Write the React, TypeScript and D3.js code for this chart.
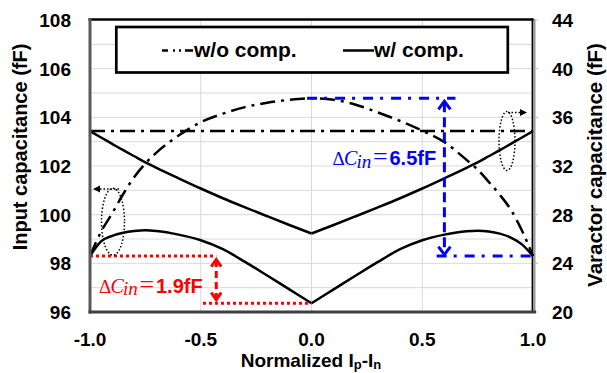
import React from "react";
import * as d3 from "d3";

// ---------- data ----------
const xTicks = [-1, -0.5, 0, 0.5, 1];
const xTickLabels = ["-1.0", "-0.5", "0.0", "0.5", "1.0"];
const leftTicks = [96, 98, 100, 102, 104, 106, 108];
const rightTicks = [20, 24, 28, 32, 36, 40, 44];
const gridLeftValues = [97, 98, 99, 100, 101, 102, 103, 104, 105, 106, 107];
const gridXValues = [-0.5, 0, 0.5];

const xGrid = [-1, -0.95, -0.9, -0.85, -0.8, -0.75, -0.7, -0.6, -0.5, -0.4, -0.3, -0.2, -0.1, 0,
  0.1, 0.2, 0.3, 0.4, 0.5, 0.6, 0.7, 0.75, 0.8, 0.85, 0.9, 0.95, 1];
// Input capacitance w/o comp. (left axis, fF)
const inputNoComp = [98.3, 99.3, 100.05, 100.85, 101.55, 102.1, 102.55, 103.25, 103.8, 104.15, 104.42, 104.6, 104.72, 104.78,
  104.72, 104.52, 104.2, 103.85, 103.45, 102.98, 102.25, 101.85, 101.35, 100.82, 100.2, 99.35, 98.3];
// Input capacitance w/ comp. (left axis, fF)
const inputComp = [98.3, 98.9, 99.13, 99.26, 99.33, 99.36, 99.33, 99.18, 98.95, 98.58, 98.06, 97.5, 96.93, 96.36,
  96.93, 97.5, 98.06, 98.58, 98.95, 99.18, 99.32, 99.34, 99.31, 99.22, 99.06, 98.78, 98.3];
// Varactor capacitance w/o comp. (right axis, fF)
const varNoComp = [34.87, 34.87, 34.87, 34.87, 34.87, 34.87, 34.87, 34.87, 34.87, 34.87, 34.87, 34.87, 34.87, 34.87,
  34.87, 34.87, 34.87, 34.87, 34.87, 34.87, 34.87, 34.87, 34.87, 34.87, 34.87, 34.87, 34.87];
// Varactor capacitance w/ comp. (right axis, fF)
const varComp = [34.87, 34.34, 33.82, 33.3, 32.8, 32.3, 31.85, 30.99, 30.15, 29.35, 28.6, 27.87, 27.15, 26.45,
  27.15, 27.87, 28.6, 29.35, 30.15, 30.99, 31.85, 32.3, 32.8, 33.3, 33.82, 34.34, 34.87];

// annotations (data coords)
const redDelta = { top: 98.3, bottom: 96.36, xArrow: -0.43, xTopStart: -1, xBottomStart: -0.49, xBottomEnd: 0, label: "1.9fF" };
const blueDelta = { top: 104.78, bottom: 98.3, xArrow: 0.6, xTopStart: -0.02, xTopEnd: 0.65, xBottomStart: 0.565, xBottomEnd: 1, label: "6.5fF" };

const W = 607, H = 373;
const M = { left: 90, right: 533, top: 20, bottom: 312 };

const FONT = "'Liberation Sans', Arial, sans-serif";
const SERIF = "'Liberation Serif', 'Times New Roman', serif";

function Chevron({ x, y, dir, color, w = 6, h = 8 }: { x: number; y: number; dir: number; color: string; w?: number; h?: number }) {
  const d = `M${x - w},${y - dir * h} L${x},${y} L${x + w},${y - dir * h}`;
  return <path d={d} fill="none" stroke={color} strokeWidth={3} strokeLinejoin="miter" />;
}

function DeltaLabel({ x, y, color, value }: { x: number; y: number; color: string; value: string }) {
  return (
    <text x={x} y={y} fill={color} fontFamily={SERIF} fontSize={19}>
      <tspan>Δ</tspan>
      <tspan x={x + 11.5} fontSize={20} fontStyle="italic">C</tspan>
      <tspan x={x + 24} dy={2.5} fontSize={19} fontStyle="italic">in</tspan>
      <tspan x={x + 40.5} dy={-2.5} fontSize={26}>=</tspan>
      <tspan x={x + 57} fontFamily={FONT} fontSize={20} fontWeight="bold">{value}</tspan>
    </text>
  );
}

export default function App() {
  const x = d3.scaleLinear().domain([-1, 1]).range([M.left, M.right]);
  const yL = d3.scaleLinear().domain([96, 108]).range([M.bottom, M.top]);
  const yR = d3.scaleLinear().domain([20, 44]).range([M.bottom, M.top]);

  const idx = xGrid.map((_, i) => i);
  const leftIdx = idx.filter((i) => xGrid[i] <= 0);
  const rightIdx = idx.filter((i) => xGrid[i] >= 0);

  const mk = (vals: number[], ys: d3.ScaleLinear<number, number>, ids: number[]) =>
    d3.line<number>().x((i) => x(xGrid[i])).y((i) => ys(vals[i])).curve(d3.curveMonotoneX)(ids) || "";

  const dashDot = "15 6 3 6";

  return (
    <svg width={W} height={H} style={{ position: "absolute", left: 0, top: 0, background: "#fff" }}>
      <rect x={0} y={0} width={W} height={H} fill="#fff" />
      {/* grid */}
      {gridLeftValues.map((v) => (
        <line key={"gh" + v} x1={M.left} x2={M.right} y1={yL(v)} y2={yL(v)} stroke="#d9d9d9" strokeWidth={1} />
      ))}
      {gridXValues.map((v) => (
        <line key={"gv" + v} x1={x(v)} x2={x(v)} y1={M.top} y2={M.bottom} stroke="#d9d9d9" strokeWidth={1} />
      ))}

      {/* curves */}
      <path d={mk(varNoComp, yR, idx)} fill="none" stroke="#000" strokeWidth={2.5} strokeDasharray={dashDot} />
      <path d={mk(inputNoComp, yL, idx)} fill="none" stroke="#000" strokeWidth={2.5} strokeDasharray={dashDot} />
      <path d={mk(varComp, yR, leftIdx)} fill="none" stroke="#000" strokeWidth={2.5} />
      <path d={mk(varComp, yR, rightIdx)} fill="none" stroke="#000" strokeWidth={2.5} />
      <path d={mk(inputComp, yL, leftIdx)} fill="none" stroke="#000" strokeWidth={2.5} />
      <path d={mk(inputComp, yL, rightIdx)} fill="none" stroke="#000" strokeWidth={2.5} />

      {/* red annotation */}
      <g stroke="#ff0000" strokeWidth={3} fill="none">
        <line x1={x(redDelta.xTopStart)} x2={x(redDelta.xArrow)} y1={yL(redDelta.top)} y2={yL(redDelta.top)} strokeDasharray="3 3" />
        <line x1={x(redDelta.xBottomStart)} x2={x(redDelta.xBottomEnd)} y1={yL(redDelta.bottom)} y2={yL(redDelta.bottom)} strokeDasharray="3 3" />
        <line x1={x(redDelta.xArrow)} x2={x(redDelta.xArrow)} y1={yL(redDelta.top) + 4} y2={yL(redDelta.bottom) - 4} strokeDasharray="7 4" />
      </g>
      <Chevron x={x(redDelta.xArrow)} y={yL(redDelta.top) + 3.5} dir={-1} color="#ff0000" w={5} h={7} />
      <Chevron x={x(redDelta.xArrow)} y={yL(redDelta.bottom) - 3.5} dir={1} color="#ff0000" w={5} h={7} />
      <DeltaLabel x={99} y={292.7} color="#ff0000" value={redDelta.label} />

      {/* blue annotation */}
      <g stroke="#0000ff" strokeWidth={3} fill="none">
        <line x1={x(blueDelta.xTopStart)} x2={x(blueDelta.xTopEnd)} y1={yL(blueDelta.top)} y2={yL(blueDelta.top)} strokeDasharray="10 7 3 8" />
        <line x1={x(blueDelta.xBottomStart)} x2={x(blueDelta.xBottomEnd)} y1={yL(blueDelta.bottom)} y2={yL(blueDelta.bottom)} strokeDasharray="10 7 3 8" />
        <line x1={x(blueDelta.xArrow)} x2={x(blueDelta.xArrow)} y1={yL(blueDelta.top) + 4} y2={yL(blueDelta.bottom) - 3} strokeDasharray="10 5" />
      </g>
      <Chevron x={x(blueDelta.xArrow)} y={yL(blueDelta.top) + 3} dir={-1} color="#0000ff" w={6} h={8} />
      <Chevron x={x(blueDelta.xArrow)} y={yL(blueDelta.bottom) - 1.5} dir={1} color="#0000ff" w={6} h={8} />
      <DeltaLabel x={332.5} y={165} color="#0000ff" value={blueDelta.label} />

      {/* dotted ellipses with arrows */}
      <g stroke="#000" strokeWidth={1.5} fill="none" strokeDasharray="1.5 2">
        <ellipse cx={113} cy={221.7} rx={11.5} ry={33.5} />
        <line x1={119} x2={98} y1={189} y2={189} />
        <ellipse cx={507} cy={141} rx={8} ry={29.5} />
        <line x1={508} x2={521} y1={112.5} y2={112.5} />
      </g>
      <path d="M93,189 L100,185.5 L100,192.5 Z" fill="#000" />
      <path d="M527,112.5 L520,109 L520,116 Z" fill="#000" />

      {/* frame / axes */}
      <line x1={88.5} x2={533.5} y1={19.5} y2={19.5} stroke="#000" strokeWidth={2.5} />
      <line x1={532.5} x2={532.5} y1={18.5} y2={312} stroke="#000" strokeWidth={1.8} />
      <line x1={534.8} x2={534.8} y1={19} y2={312} stroke="#7f7f7f" strokeWidth={1.2} />
      {rightTicks.map((t) => (
        <line key={"rt" + t} x1={534.8} x2={538} y1={yR(t)} y2={yR(t)} stroke="#bfbfbf" strokeWidth={1} />
      ))}
      <line x1={90} x2={90} y1={18.5} y2={313.5} stroke="#595959" strokeWidth={3} />
      <line x1={88.5} x2={536} y1={312} y2={312} stroke="#404040" strokeWidth={3} />

      {/* legend */}
      <rect x={116.3} y={27} width={391.5} height={45.5} fill="#fff" stroke="#000" strokeWidth={2.7} />
      <line x1={162} x2={193} y1={50.5} y2={50.5} stroke="#000" strokeWidth={2.5} strokeDasharray="6 5 2 4 2 4 8" />
      <text x={194} y={57} fontFamily={FONT} fontSize={21} fontWeight="bold">w/o comp.</text>
      <line x1={343} x2={374} y1={50.5} y2={50.5} stroke="#000" strokeWidth={2.5} />
      <text x={374} y={57} fontFamily={FONT} fontSize={21} fontWeight="bold">w/ comp.</text>

      {/* tick labels */}
      <g fontFamily={FONT} fontSize={19} fontWeight="bold" fill="#000">
        {leftTicks.map((t) => (
          <text key={"lt" + t} x={71} y={yL(t) + 7} textAnchor="end">{t}</text>
        ))}
        {rightTicks.map((t) => (
          <text key={"rl" + t} x={552} y={yR(t) + 7} textAnchor="start">{t}</text>
        ))}
        {xTicks.map((t, i) => (
          <text key={"xt" + t} x={x(t)} y={346} textAnchor="middle">{xTickLabels[i]}</text>
        ))}
      </g>

      {/* axis titles */}
      <text transform="translate(27,147) rotate(-90)" textAnchor="middle" fontFamily={FONT} fontSize={20} fontWeight="bold">
        Input capacitance (fF)
      </text>
      <text transform="translate(602,165) rotate(-90)" textAnchor="middle" fontFamily={FONT} fontSize={20.5} fontWeight="bold">
        Varactor capacitance (fF)
      </text>
      <text x={311} y={367} textAnchor="middle" fontFamily={FONT} fontSize={19} fontWeight="bold">
        Normalized I<tspan fontSize={13} dy={2}>p</tspan><tspan dy={-2}>-I</tspan><tspan fontSize={13} dy={2}>n</tspan>
      </text>
    </svg>
  );
}
